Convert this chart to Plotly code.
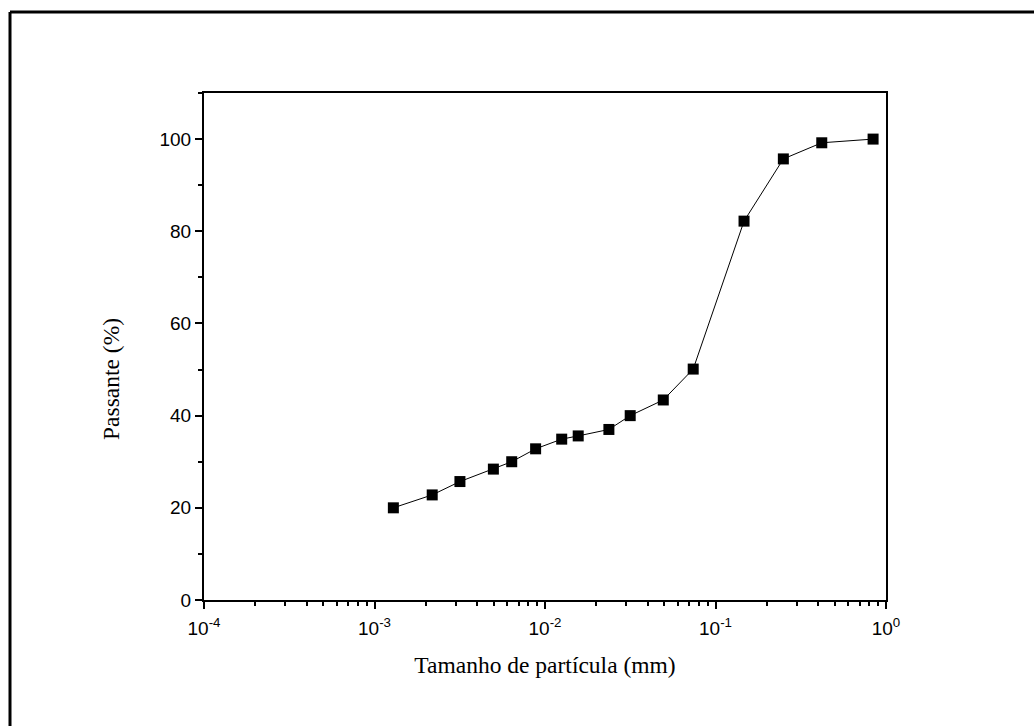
import plotly.graph_objects as go

# Data
particle_mm = [0.00129, 0.00218, 0.00317, 0.00498, 0.00638, 0.00881, 0.01253,
               0.01566, 0.0237, 0.0316, 0.0494, 0.074, 0.147, 0.25, 0.42, 0.84]
passing_pct = [20.0, 22.8, 25.7, 28.4, 30.0, 32.8, 34.9,
               35.6, 37.0, 40.0, 43.4, 50.1, 82.2, 95.7, 99.2, 100.0]

x_tickvals = [1e-4, 1e-3, 1e-2, 1e-1, 1]
x_ticktext = ["10<sup>-4</sup>", "10<sup>-3</sup>", "10<sup>-2</sup>",
              "10<sup>-1</sup>", "10<sup>0</sup>"]
y_tickvals = [0, 20, 40, 60, 80, 100]

W, H = 1034, 726
L, R, T, B = 204, 1034 - 886, 93, 726 - 600

fig = go.Figure()
fig.add_trace(go.Scatter(
    x=particle_mm, y=passing_pct, mode="lines+markers",
    line=dict(color="black", width=1),
    marker=dict(symbol="square", size=11, color="black"),
    showlegend=False,
))

tick_font = dict(family="Liberation Sans, Arial", size=19, color="black")
title_font = dict(family="Liberation Serif, Times New Roman", size=23.5, color="black")

fig.update_xaxes(
    type="log", range=[-4, 0],
    tickvals=x_tickvals, ticktext=x_ticktext,
    ticks="outside", ticklen=7, tickwidth=2, tickcolor="black",
    minor=dict(dtick="D1", ticks="outside", ticklen=4, tickwidth=1.5, tickcolor="black"),
    showline=True, linecolor="black", linewidth=2, mirror=True,
    showgrid=False, zeroline=False,
    tickfont=tick_font, ticklabelstandoff=3,
    title=dict(text="Tamanho de partícula (mm)", font=title_font, standoff=19),
)
fig.update_yaxes(
    range=[0, 110],
    tickvals=y_tickvals,
    ticks="outside", ticklen=7, tickwidth=2, tickcolor="black",
    minor=dict(dtick=10, ticks="outside", ticklen=4, tickwidth=1.5, tickcolor="black"),
    showline=True, linecolor="black", linewidth=2, mirror=True,
    showgrid=False, zeroline=False,
    tickfont=tick_font,
)

pw, ph = W - L - R, H - T - B

fig.add_annotation(
    text="Passante (%)", textangle=-90, showarrow=False,
    xref="paper", yref="paper",
    x=(111 - L) / pw, y=(600 - 379) / ph,
    xanchor="center", yanchor="middle",
    font=title_font,
)

fx = (10 - L) / pw
fy_top = 1 + (T - 12) / ph
fy_bot = -(B + 20) / ph
fx_right = 1 + (R + 20) / pw
fig.add_shape(type="line", xref="paper", yref="paper",
              x0=fx, x1=fx, y0=fy_top, y1=fy_bot,
              line=dict(color="black", width=3))
fig.add_shape(type="line", xref="paper", yref="paper",
              x0=fx, x1=fx_right, y0=fy_top, y1=fy_top,
              line=dict(color="black", width=3))

fig.update_layout(
    width=W, height=H,
    margin=dict(l=L, r=R, t=T, b=B),
    plot_bgcolor="white", paper_bgcolor="white",
)

fig.write_html("out.html")
